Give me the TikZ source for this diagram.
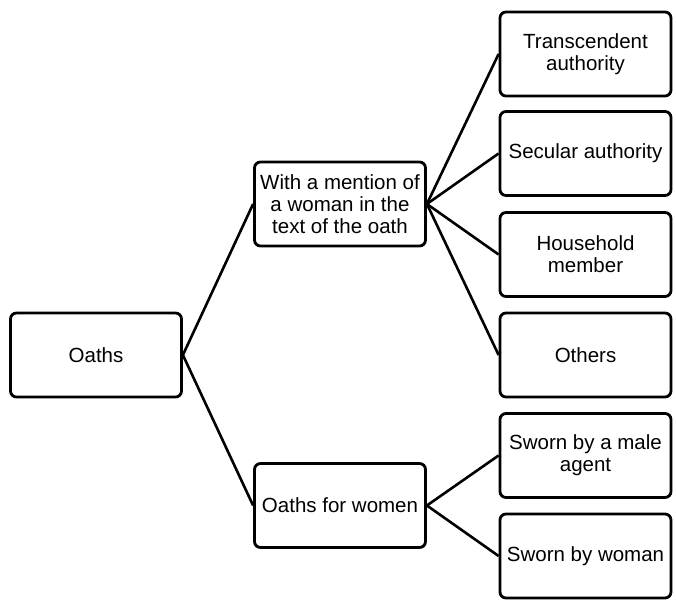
\documentclass[tikz,border=0pt]{standalone}
\usepackage{fontspec}
\setmainfont{Liberation Sans}
\begin{document}
\begin{tikzpicture}[x=1pt,y=-1pt,
  box/.style={draw=black, line width=2.8pt, rounded corners=6pt, fill=white,
    minimum width=171pt, minimum height=84pt, inner sep=2pt, align=center,
    font=\fontsize{20.5pt}{21.7pt}\selectfont},
  conn/.style={line width=2.6pt}]
\useasboundingbox (0,0) rectangle (676,601);
\node[box] (oaths) at (96,355) {Oaths};
\node[box] (mid1) at (340,204) {With a mention of\\a woman in the\\text of the oath};
\node[box] (mid2) at (340,505.5) {Oaths for women};
\node[box] (r1) at (585.5,54) {Transcendent\\authority};
\node[box] (r2) at (585.5,153.5) {Secular authority};
\node[box] (r3) at (585.5,254.5) {Household\\member};
\node[box] (r4) at (585.5,355) {Others};
\node[box] (r5) at (585.5,455.5) {Sworn by a male\\agent};
\node[box] (r6) at (585.5,556) {Sworn by woman};
\begin{scope}[on background layer/.try]
\end{scope}
\draw[conn] (oaths.east) -- (mid1.west);
\draw[conn] (oaths.east) -- (mid2.west);
\foreach \r in {r1,r2,r3,r4} \draw[conn] (mid1.east) -- (\r.west);
\foreach \r in {r5,r6} \draw[conn] (mid2.east) -- (\r.west);
\end{tikzpicture}
\end{document}
